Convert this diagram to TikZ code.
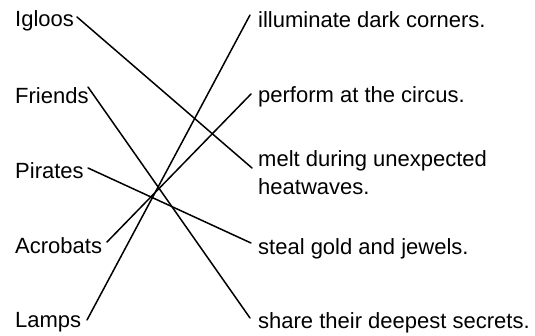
\documentclass[tikz,border=0pt]{standalone}
\usepackage{fontspec}
\setmainfont{Liberation Sans}
\begin{document}
\begin{tikzpicture}[x=1pt,y=-1pt,
  word/.style={inner sep=0pt,anchor=base west,font=\fontsize{22}{28}\selectfont},
  link/.style={line width=1.5pt,line cap=round}]
\useasboundingbox (0,0) rectangle (535,336);
% left column
\node[word] (igloos)   at (15,27)  {Igloos};
\node[word] (friends)  at (15,104) {Friends};
\node[word] (pirates)  at (15,179) {Pirates};
\node[word] (acrobats) at (15,254) {Acrobats};
\node[word] (lamps)    at (15,327) {Lamps};
% right column
\node[word] (illum)   at (258,28)  {illuminate dark corners.};
\node[word] (perform) at (258,103) {perform at the circus.};
\node[word,align=left] (melt) at (258,195) {melt during unexpected\\heatwaves.};
\node[word] (steal)   at (258,255) {steal gold and jewels.};
\node[word] (share)   at (258,328) {share their deepest secrets.};
% connector ends
\coordinate (igloosE)   at (77,17);
\coordinate (friendsE)  at (88,87);
\coordinate (piratesE)  at (88,168);
\coordinate (acrobatsE) at (107,242);
\coordinate (lampsE)    at (87,320);
\coordinate (illumW)    at (250,15);
\coordinate (performW)  at (251,94);
\coordinate (meltW)     at (252,168);
\coordinate (stealW)    at (251,243);
\coordinate (shareW)    at (250,318);
% connectors
\draw[link] (igloosE) -- (meltW);
\draw[link] (friendsE) -- (shareW);
\draw[link] (piratesE) -- (stealW);
\draw[link] (acrobatsE) -- (performW);
\draw[link] (lampsE) -- (illumW);
\end{tikzpicture}
\end{document}
